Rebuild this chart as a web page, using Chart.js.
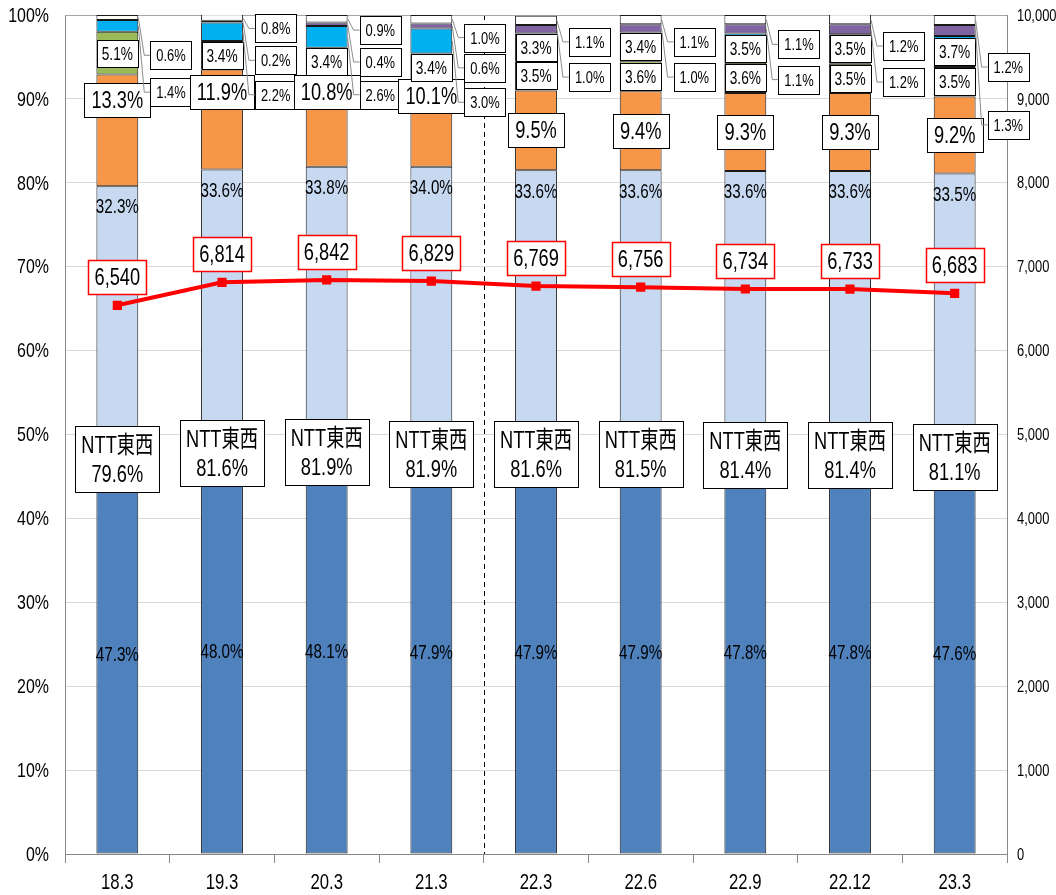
<!DOCTYPE html>
<html><head><meta charset="utf-8">
<script src="https://cdn.jsdelivr.net/npm/chart.js@4/dist/chart.umd.min.js"></script>
<style>html,body{margin:0;padding:0;background:#fff}#wrap{width:1056px;height:895px;position:relative}</style>
</head><body><div id="wrap"><canvas id="c"></canvas></div>
<script>
// ---- data ----
const categories = ['18.3','19.3','20.3','21.3','22.3','22.6','22.9','22.12','23.3'];
const nttFtth    = [47.3,48.0,48.1,47.9,47.9,47.9,47.8,47.8,47.6];
const nttOther   = [32.3,33.6,33.8,34.0,33.6,33.6,33.6,33.6,33.5];
const nttTotal   = [79.6,81.6,81.9,81.9,81.6,81.5,81.4,81.4,81.1];
const orangeShare= [13.3,11.9,10.8,10.1,9.5,9.4,9.3,9.3,9.2];
const greenShare = [5.1,3.4,3.4,3.4,3.5,3.6,3.6,3.5,3.5];
const cyanShare  = [1.4,2.2,2.6,3.0,3.3,3.4,3.5,3.5,3.7];
const purpleShare= [0,0.2,0.4,0.6,1.0,1.0,1.1,1.2,1.3];
const whiteShare = [0.6,0.8,0.9,1.0,1.1,1.1,1.1,1.2,1.2];
const totalSubs  = [6540,6814,6842,6829,6769,6756,6734,6733,6683];
const pctTicks   = [0,10,20,30,40,50,60,70,80,90,100];
const cntTicks   = [0,1000,2000,3000,4000,5000,6000,7000,8000,9000,10000];

// ---- layout (label placement only) ----
const FONT = "'Liberation Sans','Noto Sans CJK JP',sans-serif";
const S = 0.76; // horizontal condensing of text (narrow face look)
const orangeLift = [3.6,3.3,3.5,3.4,0,0,0,0,0];
// callout slots (percent-scale y) : [white, purple, cyan]
const calloutSlots = [
  [95.2,null,90.8],[98.4,94.6,90.5],[98.2,94.4,90.5],[97.3,93.7,89.6],
  [96.8,92.6,null],[96.8,92.6,null],[96.5,92.3,null],[96.3,92.0,null],[93.8,86.9,null]
];

function fmtPct(v){return v.toFixed(1)+'%';}
function narrow(ctx,t,x,y,font,align){
  ctx.save(); ctx.font=font; ctx.fillStyle='#000'; ctx.textAlign=align||'center'; ctx.textBaseline='middle';
  ctx.translate(x,y); ctx.scale(S,1); ctx.fillText(t,0,0); ctx.restore();
}
function drawBox(ctx, lines, cx, cy, opt){
  ctx.save();
  ctx.font = opt.font;
  let tw = 0; lines.forEach(l=>{tw=Math.max(tw, ctx.measureText(l).width*S);});
  const w = Math.round(tw + 2*opt.padX);
  const h = Math.round(lines.length*opt.lineH + 2*opt.padY);
  const x = Math.round(cx - w/2)+0.5, y = Math.round(cy - h/2)+0.5;
  ctx.fillStyle = '#fff'; ctx.fillRect(x,y,w,h);
  ctx.strokeStyle = opt.border||'#000'; ctx.lineWidth = opt.lw||1; ctx.strokeRect(x,y,w,h);
  ctx.restore();
  lines.forEach((l,i)=>{ narrow(ctx,l,cx, y + opt.padY + opt.lineH*(i+0.5)+1, opt.font); });
  return {x,y,w,h};
}

const decor = {
  id:'decor',
  beforeDatasetsDraw(chart){
    const ctx=chart.ctx, a=chart.chartArea, xs=chart.scales.x;
    const xm = (xs.getPixelForValue(3)+xs.getPixelForValue(4))/2;
    ctx.save(); ctx.strokeStyle='#000'; ctx.lineWidth=1; ctx.setLineDash([5,4]);
    ctx.beginPath(); ctx.moveTo(Math.round(xm)+0.5,a.top); ctx.lineTo(Math.round(xm)+0.5,a.bottom); ctx.stroke();
    ctx.setLineDash([]); ctx.strokeStyle='#A6A6A6';
    ctx.beginPath(); ctx.moveTo(a.left,a.top+0.5); ctx.lineTo(a.right,a.top+0.5); ctx.stroke();
    ctx.restore();
  },
  afterDatasetsDraw(chart){
    const ctx=chart.ctx, ys=chart.scales.y, y1=chart.scales.y1, xs=chart.scales.x, a=chart.chartArea;
    const m0=chart.getDatasetMeta(0);
    // axis tick labels
    pctTicks.forEach(v=>narrow(ctx,v+'%',a.left-16,ys.getPixelForValue(v)+1,"21px "+FONT,'right'));
    cntTicks.forEach(v=>narrow(ctx,v.toLocaleString('en-US'),a.right+10,y1.getPixelForValue(v)+1,"17px "+FONT,'left'));
    categories.forEach((c,i)=>narrow(ctx,c,xs.getPixelForValue(i),a.bottom+29,"22px "+FONT));
    categories.forEach((c,i)=>{
      const bar=m0.data[i]; const cx=bar.x; const right=bar.x+bar.width/2;
      narrow(ctx, fmtPct(nttFtth[i]), cx, ys.getPixelForValue(nttFtth[i]/2), "20px "+FONT);
      const t1=nttFtth[i]+nttOther[i];
      narrow(ctx, fmtPct(nttOther[i]), cx, ys.getPixelForValue(t1-2.6), "20px "+FONT);
      const t2=t1+orangeShare[i];
      const oc=(t1+t2)/2+orangeLift[i];
      drawBox(ctx,[fmtPct(orangeShare[i])],cx,ys.getPixelForValue(oc),{font:"24px "+FONT,padX:7,padY:4,lineH:26});
      const t3=t2+greenShare[i];
      drawBox(ctx,[fmtPct(greenShare[i])],cx,ys.getPixelForValue((t2+t3)/2),{font:"18px "+FONT,padX:5,padY:4,lineH:19});
      const t4=t3+cyanShare[i];
      const t5=t4+purpleShare[i];
      const t6=Math.min(100,t5+whiteShare[i]);
      const slots=calloutSlots[i];
      const cal=[[whiteShare[i],(t5+t6)/2,slots[0]],[purpleShare[i],(t4+t5)/2,slots[1]],[cyanShare[i],(t3+t4)/2,slots[2]]];
      if(slots[2]===null){
        drawBox(ctx,[fmtPct(cyanShare[i])],cx,ys.getPixelForValue((t3+t4)/2),{font:"18px "+FONT,padX:5,padY:4,lineH:19});
      }
      cal.forEach(([v,mid,slot])=>{
        if(slot===null) return;
        const by=ys.getPixelForValue(slot);
        ctx.font="17px "+FONT;
        const w=ctx.measureText(fmtPct(v)).width*S+12;
        const bx=right+12+w/2;
        ctx.save(); ctx.strokeStyle='#8C8C8C'; ctx.lineWidth=1;
        ctx.beginPath(); ctx.moveTo(right, ys.getPixelForValue(mid)); ctx.lineTo(right+6, by); ctx.lineTo(right+12, by); ctx.stroke(); ctx.restore();
        drawBox(ctx,[fmtPct(v)],bx,by,{font:"17px "+FONT,padX:6,padY:4,lineH:20});
      });
      drawBox(ctx,['NTT東西',fmtPct(nttTotal[i])],cx,ys.getPixelForValue(nttFtth[i])+2,{font:"24px "+FONT,padX:6,padY:4,lineH:29});
      const py=y1.getPixelForValue(totalSubs[i]);
      drawBox(ctx,[totalSubs[i].toLocaleString('en-US')],cx,py-28,{font:"24px "+FONT,padX:6,padY:4,lineH:26,border:'#FF0000',lw:1.5});
    });
  }
};

const barDs=(label,data,color)=>({type:'bar',label,data,backgroundColor:color,borderColor:'#1A1A1A',borderWidth:1,
  barPercentage:0.4,categoryPercentage:1.0,yAxisID:'y',stack:'s',order:2,borderSkipped:false});

new Chart(document.getElementById('c'),{
  data:{labels:categories,datasets:[
    barDs('NTT東西 FTTH',nttFtth,'#4F81BD'),
    barDs('NTT東西 その他',nttOther,'#C6D9F1'),
    barDs('KDDI',orangeShare,'#F79646'),
    barDs('green',greenShare,'#9BBB59'),
    barDs('cyan',cyanShare,'#00B0F0'),
    barDs('purple',purpleShare,'#8064A2'),
    barDs('その他',whiteShare,'#FFFFFF'),
    {type:'line',label:'total',data:totalSubs,yAxisID:'y1',borderColor:'#FF0000',backgroundColor:'#FF0000',
     borderWidth:4,pointStyle:'rect',pointRadius:6.5,pointBorderWidth:0,order:0,tension:0}
  ]},
  options:{
    responsive:true,maintainAspectRatio:false,animation:false,devicePixelRatio:1,
    layout:{padding:{top:15,left:0,right:0,bottom:0}},
    plugins:{legend:{display:false},tooltip:{enabled:false}},
    scales:{
      x:{stacked:true,offset:true,
        grid:{offset:true,drawOnChartArea:false,drawTicks:true,tickLength:9,color:'#888'},
        border:{color:'#888'},
        ticks:{font:{family:FONT,size:2},color:'rgba(0,0,0,0)',padding:0,maxRotation:0},
        afterFit(s){s.height=41;}},
      y:{stacked:true,min:0,max:100,position:'left',
        afterBuildTicks(s){s.ticks=pctTicks.map(v=>({value:v}));},
        ticks:{font:{family:FONT,size:2},color:'rgba(0,0,0,0)',callback:v=>v+'%',padding:0},
        grid:{color:'#D9D9D9',drawTicks:false},border:{color:'#888'},
        afterFit(s){s.width=65;}},
      y1:{min:0,max:10000,position:'right',
        afterBuildTicks(s){s.ticks=cntTicks.map(v=>({value:v}));},
        ticks:{font:{family:FONT,size:2},color:'rgba(0,0,0,0)',callback:v=>Number(v).toLocaleString('en-US'),padding:0},
        grid:{drawOnChartArea:false,drawTicks:false},border:{color:'#888'},
        afterFit(s){s.width=49;}}
    }
  },
  plugins:[decor]
});
</script></body></html>
